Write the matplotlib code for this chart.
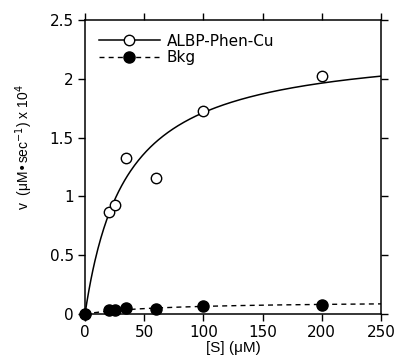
import numpy as np
import matplotlib
matplotlib.use('Agg')
import matplotlib.pyplot as plt
from matplotlib.ticker import FormatStrFormatter

plt.rcParams['font.family'] = ['Liberation Sans', 'DejaVu Sans']

# substrate concentration (uM) and rates (uM/sec x 10^4)
s_albp = [0, 20, 25, 35, 60, 100, 200]
v_albp = [0, 0.87, 0.93, 1.33, 1.16, 1.73, 2.02]
s_bkg = [0, 20, 25, 35, 60, 100, 200]
v_bkg = [0, 0.03, 0.035, 0.055, 0.045, 0.068, 0.075]

# Michaelis-Menten fit parameters
vmax_albp, km_albp = 2.30, 34.3
vmax_bkg, km_bkg = 0.11, 70.0

xticks = [0, 50, 100, 150, 200, 250]
yticks = [0, 0.5, 1, 1.5, 2, 2.5]

fig = plt.figure(figsize=(3.98, 3.64), dpi=100)
ax = fig.add_axes([0.2136, 0.1374, 0.7437, 0.8077])

dash = (3.6, 3)
s_fit = np.linspace(0, 250, 300)
ax.plot(s_fit, vmax_albp * s_fit / (km_albp + s_fit), 'k-', lw=1.1)
ax.plot(s_fit, vmax_bkg * s_fit / (km_bkg + s_fit), 'k--', lw=1.0, dashes=dash)
ax.plot(s_albp, v_albp, 'o', mfc='white', mec='black', ms=7.5, mew=1.0, clip_on=False, zorder=3)
ax.plot(s_bkg, v_bkg, 'o', mfc='black', mec='black', ms=8, clip_on=False, zorder=3)

# legend handles
ax.plot([], [], 'k-', marker='o', mfc='white', mec='black', ms=7.5, lw=1.1, label='ALBP-Phen-Cu')
ax.plot([], [], 'k--', marker='o', mfc='black', ms=8, lw=1.0, dashes=dash, label='Bkg')
h, l = ax.get_legend_handles_labels()
ax.legend(h[-2:], l[-2:], loc='upper left', frameon=False,
          prop={'family': 'DejaVu Sans', 'size': 11},
          handlelength=4.0, handletextpad=0.45, borderaxespad=0.5, labelspacing=0.1)

ax.set_xlim(0, 250)
ax.set_ylim(0, 2.5)
ax.set_xticks(xticks)
ax.set_yticks(yticks)
ax.yaxis.set_major_formatter(FormatStrFormatter('%g'))
ax.tick_params(direction='out', length=5, width=1, labelsize=11,
               top=True, right=True, pad=3)
for t in ax.get_xticklabels() + ax.get_yticklabels():
    t.set_family('DejaVu Sans')
for sp in ax.spines.values():
    sp.set_linewidth(1.1)

ax.set_xlabel('[S] (\u03bcM)', fontsize=11, labelpad=1)
ax.set_ylabel('v  (\u03bcM\u2022sec$^{-1}$) x 10$^4$', fontsize=10)
ax.yaxis.set_label_coords(-0.17, 0.568)

fig.savefig('out.png', dpi=100)
